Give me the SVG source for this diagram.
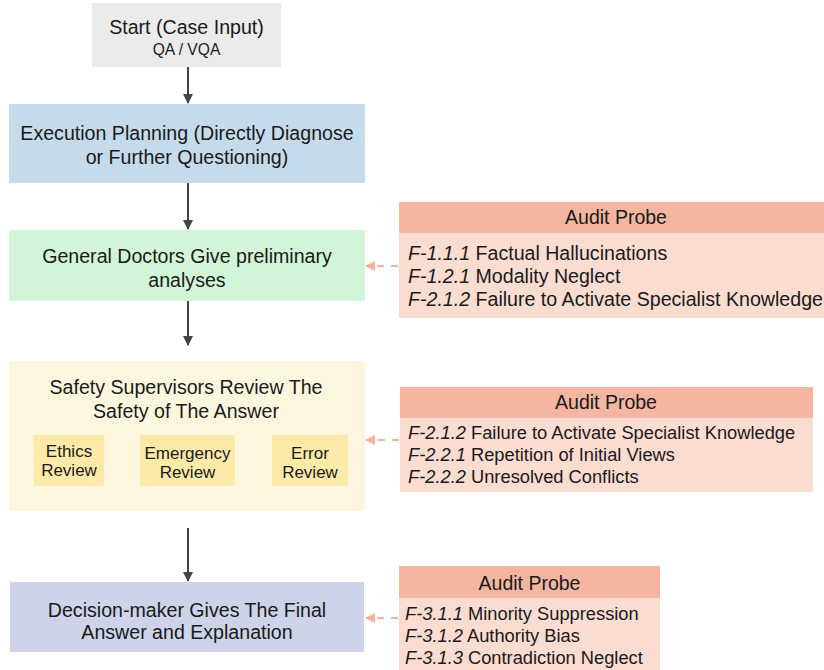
<svg xmlns="http://www.w3.org/2000/svg" width="824" height="670" viewBox="0 0 824 670">
<style>
text{font-family:"Liberation Sans",Arial,sans-serif;fill:#1a1a1a}
.t{font-size:19.6px;text-anchor:middle}
.s{font-size:17px;text-anchor:middle}
.h{font-size:19.5px;text-anchor:middle}
.i{font-size:19.6px}
.j{font-size:18.3px}
.c{font-style:italic}
.sol{stroke:#444;stroke-width:2;fill:none}
.dash{stroke:#f2b39c;stroke-width:2;fill:none;stroke-dasharray:7,7}
</style>
<defs>
<marker id="ah" markerWidth="10" markerHeight="10" refX="9" refY="5" orient="auto" markerUnits="userSpaceOnUse" viewBox="0 0 10 10">
<path d="M0,0 L10,5 L0,10 Z" fill="#444"/>
</marker>
<marker id="ap" markerWidth="10" markerHeight="10" refX="9" refY="5" orient="auto" markerUnits="userSpaceOnUse" viewBox="0 0 10 10">
<path d="M0,0 L10,5 L0,10 Z" fill="#f2b39c"/>
</marker>
</defs>
<g id="start">
<rect x="92" y="3" width="189" height="64" fill="#ebebeb"/>
<text class="t" x="186.5" y="34">Start (Case Input)</text>
<text class="s" x="186.5" y="55" style="font-size:15.6px">QA / VQA</text>
</g>
<g id="planning">
<rect x="9" y="104" width="356" height="79" fill="#c5dbeb"/>
<text class="t" x="187" y="140">Execution Planning (Directly Diagnose</text>
<text class="t" x="187" y="164">or Further Questioning)</text>
</g>
<g id="doctors">
<rect x="9" y="230" width="356" height="71" fill="#d1f5d6"/>
<text class="t" x="187" y="263">General Doctors Give preliminary</text>
<text class="t" x="187" y="287">analyses</text>
</g>
<g id="safety">
<rect x="9" y="361" width="356" height="150" fill="#fdf6de"/>
<text class="t" x="186" y="394">Safety Supervisors Review The</text>
<text class="t" x="186" y="418">Safety of The Answer</text>
<g id="ethics">
<rect x="34" y="435" width="70" height="51" fill="#fdeaa9"/>
<text class="s" x="69" y="457">Ethics</text>
<text class="s" x="69" y="476">Review</text>
</g>
<g id="emergency">
<rect x="140" y="435" width="95" height="51" fill="#fdeaa9"/>
<text class="s" x="187.5" y="459">Emergency</text>
<text class="s" x="187.5" y="478">Review</text>
</g>
<g id="error">
<rect x="272" y="435" width="76" height="51" fill="#fdeaa9"/>
<text class="s" x="310" y="459">Error</text>
<text class="s" x="310" y="478">Review</text>
</g>
</g>
<g id="decision">
<rect x="10" y="582" width="354" height="70" fill="#cdd3e8"/>
<text class="t" x="187" y="617">Decision-maker Gives The Final</text>
<text class="t" x="187" y="639">Answer and Explanation</text>
</g>
<g id="probe1">
<rect x="399" y="202" width="425" height="31" fill="#f4b6a0"/>
<rect x="399" y="233" width="425" height="85" fill="#fadcd0"/>
<text class="h" x="616" y="224">Audit Probe</text>
<text class="i" x="408" y="260"><tspan class="c">F-1.1.1</tspan> Factual Hallucinations</text>
<text class="i" x="408" y="283"><tspan class="c">F-1.2.1</tspan> Modality Neglect</text>
<text class="i" x="408" y="306"><tspan class="c">F-2.1.2</tspan> Failure to Activate Specialist Knowledge</text>
</g>
<g id="probe2">
<rect x="400" y="387" width="413" height="31" fill="#f4b6a0"/>
<rect x="400" y="418" width="413" height="74" fill="#fadcd0"/>
<text class="h" x="606" y="409">Audit Probe</text>
<text class="j" x="408" y="439"><tspan class="c">F-2.1.2</tspan> Failure to Activate Specialist Knowledge</text>
<text class="j" x="408" y="461"><tspan class="c">F-2.2.1</tspan> Repetition of Initial Views</text>
<text class="j" x="408" y="483"><tspan class="c">F-2.2.2</tspan> Unresolved Conflicts</text>
</g>
<g id="probe3">
<rect x="399" y="566" width="261" height="32" fill="#f4b6a0"/>
<rect x="399" y="598" width="261" height="72" fill="#fadcd0"/>
<text class="h" x="529.5" y="590">Audit Probe</text>
<text class="j" x="405" y="620"><tspan class="c">F-3.1.1</tspan> Minority Suppression</text>
<text class="j" x="405" y="642"><tspan class="c">F-3.1.2</tspan> Authority Bias</text>
<text class="j" x="405" y="664"><tspan class="c">F-3.1.3</tspan> Contradiction Neglect</text>
</g>
<g id="connectors">
<line class="sol" x1="188" y1="67" x2="188" y2="103" marker-end="url(#ah)"/>
<line class="sol" x1="188" y1="183" x2="188" y2="229" marker-end="url(#ah)"/>
<line class="sol" x1="188" y1="301" x2="188" y2="345" marker-end="url(#ah)"/>
<line class="sol" x1="188" y1="528" x2="188" y2="581" marker-end="url(#ah)"/>
<line class="dash" x1="398" y1="266" x2="366" y2="266" marker-end="url(#ap)"/>
<line class="dash" x1="399" y1="440" x2="366" y2="440" marker-end="url(#ap)"/>
<line class="dash" x1="398" y1="618" x2="366" y2="618" marker-end="url(#ap)"/>
</g>
</svg>
